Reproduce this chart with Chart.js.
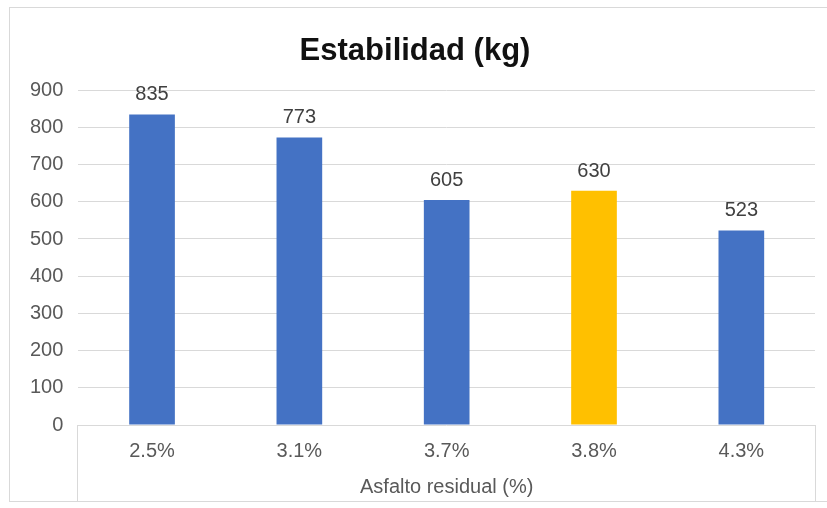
<!DOCTYPE html>
<html>
<head>
<meta charset="utf-8">
<script src="https://cdn.jsdelivr.net/npm/chart.js@4.4.1/dist/chart.umd.min.js"></script>
<style>
	html, body { margin: 0; padding: 0; background: #fff; }
	#wrap { width: 827px; height: 508px; }
</style>
</head>
<body>
<div id="wrap"><canvas id="estabilidadChart" width="827" height="508"></canvas></div>
<script>
// Estabilidad Marshall por contenido de asfalto residual

var categorias = ['2.5%', '3.1%', '3.7%', '3.8%', '4.3%'];
var estabilidad = [835, 773, 605, 630, 523];
var colores = ['#4472C4', '#4472C4', '#4472C4', '#FFC000', '#4472C4'];
var ticksY = [0, 100, 200, 300, 400, 500, 600, 700, 800, 900];

var gris = '#595959';
var fuente = "'Liberation Sans', Arial, sans-serif";

// marco exterior y recuadro bajo el eje de categorias
var marco = {
	id: 'marco',
	afterDraw: function (chart) {
		var c = chart.ctx;
		var area = chart.chartArea;
		c.save();
		c.strokeStyle = '#d9d9d9';
		c.lineWidth = 1;
		c.strokeRect(9.5, 7.5, 830, 494);
		c.beginPath();
		c.moveTo(Math.round(area.left) - 0.5, area.bottom);
		c.lineTo(Math.round(area.left) - 0.5, 501);
		c.moveTo(Math.round(area.right) + 0.5, area.bottom);
		c.lineTo(Math.round(area.right) + 0.5, 501);
		c.stroke();
		c.restore();
	}
};

// valor encima de cada barra
var etiquetas = {
	id: 'etiquetas',
	afterDatasetsDraw: function (chart) {
		var c = chart.ctx;
		var meta = chart.getDatasetMeta(0);
		c.save();
		c.font = '20px ' + fuente;
		c.fillStyle = '#404040';
		c.textAlign = 'center';
		c.textBaseline = 'alphabetic';
		meta.data.forEach(function (bar, i) {
			c.fillText(chart.data.datasets[0].data[i], bar.x, bar.y - 14);
		});
		c.restore();
	}
};

var ctx = document.getElementById('estabilidadChart');

new Chart(ctx, {
	type: 'bar',
	data: {
		labels: categorias,
		datasets: [{
			data: estabilidad,
			backgroundColor: colores,
			borderWidth: 0,
			categoryPercentage: 1,
			barPercentage: 0.31
		}]
	},
	options: {
		responsive: false,
		animation: false,
		layout: {
			padding: { left: 15, right: 12, top: 20, bottom: 9 }
		},
		plugins: {
			legend: { display: false },
			tooltip: { enabled: false },
			title: {
				display: true,
				text: 'Estabilidad (kg)',
				color: '#111',
				font: { family: fuente, size: 31, weight: 'bold' },
				padding: { top: 13, bottom: 20 }
			}
		},
		scales: {
			x: {
				grid: { display: false },
				border: { display: false },
				ticks: {
					color: gris,
					font: { family: fuente, size: 20 },
					padding: 6
				},
				title: {
					display: true,
					text: 'Asfalto residual (%)',
					color: gris,
					font: { family: fuente, size: 20 },
					padding: { top: 6, bottom: 0 }
				}
			},
			y: {
				min: 0,
				max: 900,
				afterBuildTicks: function (axis) {
					axis.ticks = ticksY.map(function (v) { return { value: v }; });
				},
				grid: { color: '#d9d9d9', drawTicks: false },
				border: { display: false },
				ticks: {
					color: gris,
					font: { family: fuente, size: 20 },
					padding: 15
				}
			}
		}
	},
	plugins: [marco, etiquetas]
});
</script>
</body>
</html>
